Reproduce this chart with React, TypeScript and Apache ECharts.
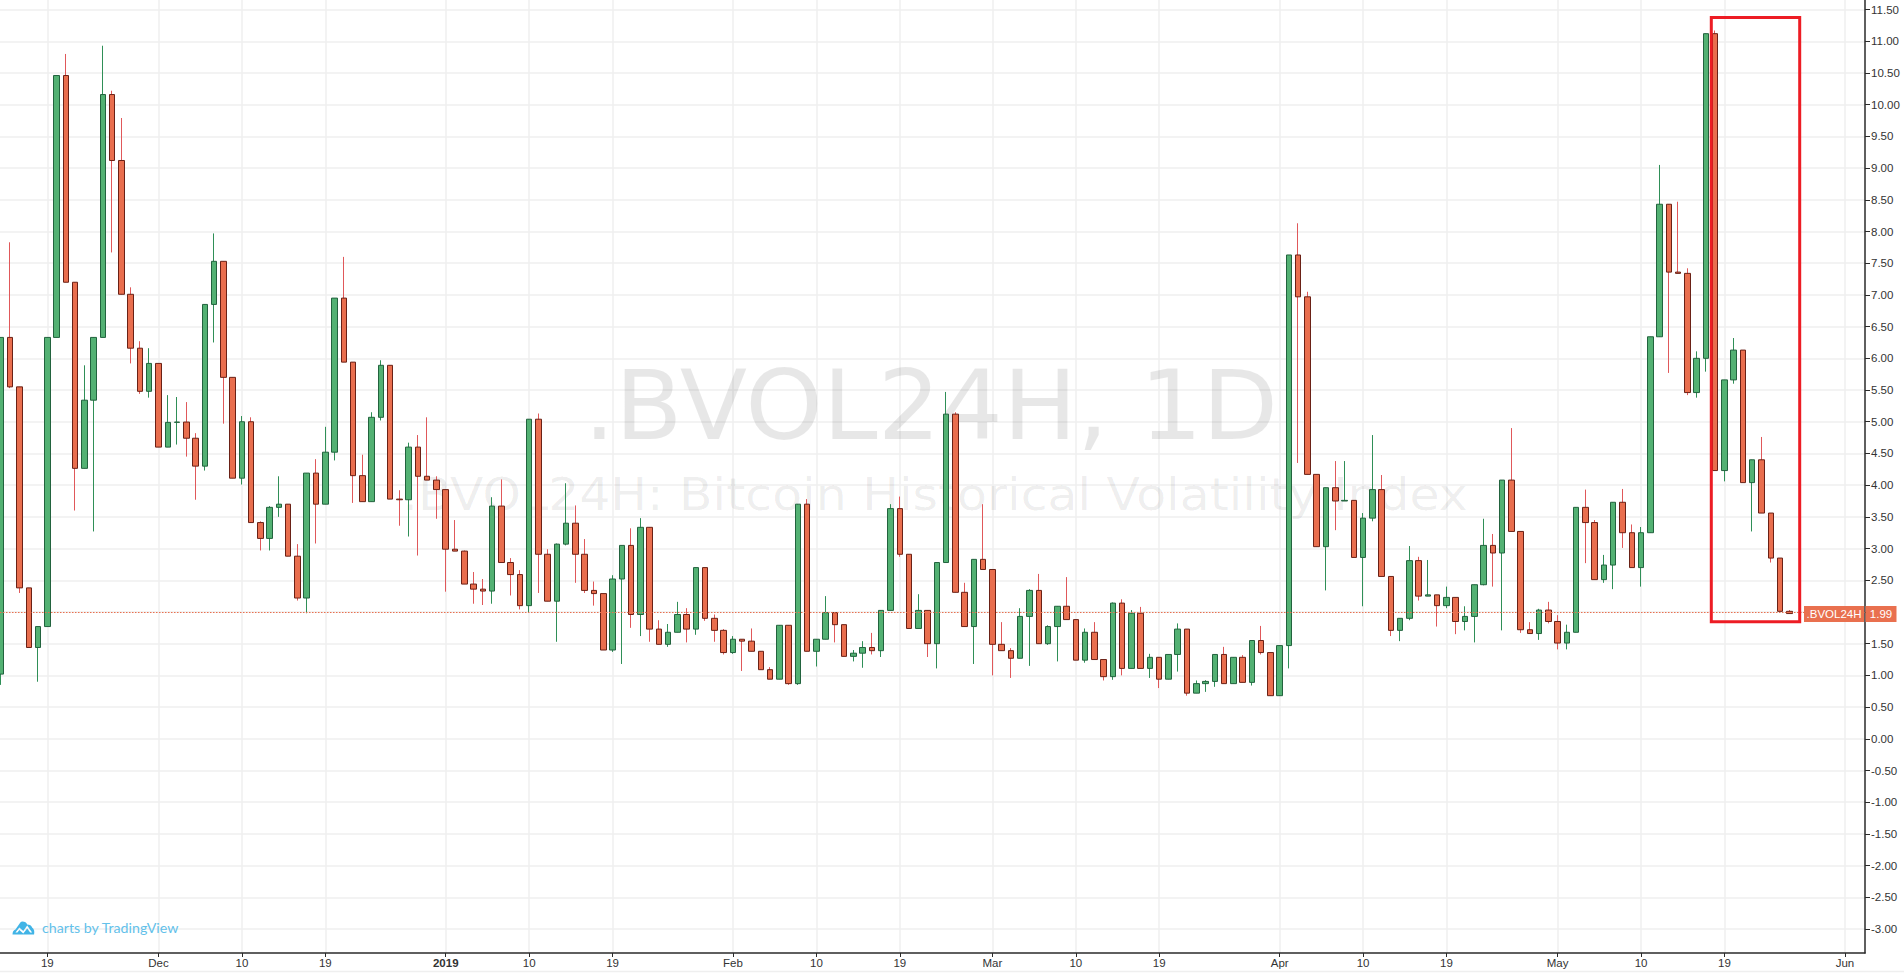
import React, { useEffect, useRef } from "react";
import * as echarts from "echarts";

// Day offsets from 19 Nov 2018; one candle per calendar day.
const firstDay = -5;
const firstOpen = 1.02;
const closes = [
  6.33, 5.55, 2.38, 1.44, 1.77,
  6.33, 10.46, 7.2, 4.265, 5.34, 6.33, 10.16, 9.12, 7.01, 6.16,
  5.48, 5.92, 4.6, 4.99, 4.995, 4.74, 4.3, 6.85, 7.53, 5.7,
  4.11, 5.0, 3.41, 3.16, 3.65, 3.7, 2.88, 2.22, 4.19, 3.7,
  4.52, 6.95, 5.94, 4.15, 3.74, 5.07, 5.89, 3.78, 3.77, 4.6,
  4.14, 4.08, 3.93, 2.99, 2.96, 2.44, 2.36, 2.33, 3.67, 2.78,
  2.59, 2.1, 5.04, 2.91, 2.17, 3.07, 3.4, 2.91, 2.34, 2.29,
  1.4, 2.52, 3.05, 1.96, 3.335, 1.73, 1.49, 1.68, 1.96, 1.73,
  2.7, 1.9, 1.71, 1.36, 1.57, 1.54, 1.38, 1.09, 0.94, 1.79,
  0.87, 3.7, 1.38, 1.57, 1.99, 1.8, 1.3, 1.35, 1.44, 1.39,
  2.025, 3.63, 2.91, 1.74, 2.025, 1.5, 2.78, 5.12, 2.31, 1.77,
  2.83, 2.67, 1.49, 1.39, 1.27, 1.93, 2.34, 1.5, 1.77, 2.09,
  1.88, 1.24, 1.68, 1.25, 0.98, 2.14, 1.11, 1.98, 1.11, 1.285,
  0.94, 1.33, 1.73, 0.72, 0.87, 0.905, 1.33, 0.87, 1.285, 0.89,
  1.55, 1.36, 0.68, 1.47, 7.63, 6.97, 4.17, 3.03, 3.96, 3.75,
  3.76, 2.86, 3.48, 3.93, 2.56, 1.71, 1.9, 2.81, 2.25, 2.27,
  2.1, 2.23, 1.85, 1.93, 2.43, 3.05, 2.93, 4.08, 3.27, 1.72,
  1.66, 2.03, 1.85, 1.51, 1.68, 3.65, 3.41, 2.51, 2.74, 3.73,
  3.25, 2.7, 3.25, 6.34, 8.43, 7.36, 7.34, 5.46, 6.0, 11.12,
  4.23, 5.66, 6.13, 4.04, 4.4, 3.56, 2.85, 2.01, 1.975,
];
const lows = [
  0.85, 5.53, 2.3, 1.44, 0.9,
  1.77, 6.33, 7.2, 3.6, 4.265, 3.27, 6.33, 7.67, 7.01, 5.92,
  5.44, 5.38, 4.6, 4.6, 4.64, 4.45, 3.77, 4.23, 6.25, 4.97,
  4.11, 4.01, 3.41, 2.97, 2.97, 3.5, 2.88, 2.18, 1.98, 3.08,
  3.7, 4.39, 5.94, 3.72, 3.74, 3.74, 5.02, 3.78, 3.36, 3.19,
  2.89, 4.08, 3.47, 2.32, 2.96, 2.44, 2.13, 2.11, 2.13, 2.78,
  2.26, 2.04, 2.0, 2.3, 2.17, 1.53, 3.05, 2.46, 2.3, 2.1,
  1.4, 1.37, 1.18, 1.75, 1.62, 1.53, 1.49, 1.45, 1.68, 1.52,
  1.64, 1.86, 1.53, 1.33, 1.34, 1.07, 1.38, 1.09, 0.94, 0.94,
  0.85, 0.85, 1.38, 1.14, 1.57, 1.52, 1.3, 1.22, 1.12, 1.33,
  1.29, 2.025, 2.87, 1.74, 1.74, 1.29, 1.11, 2.78, 2.31, 1.77,
  1.18, 2.67, 1.0, 1.39, 0.96, 1.27, 1.15, 1.5, 1.48, 1.22,
  1.88, 1.24, 1.2, 1.25, 0.92, 0.93, 1.0, 1.11, 1.11, 0.96,
  0.8, 0.94, 1.06, 0.68, 0.72, 0.74, 0.82, 0.87, 0.87, 0.89,
  0.84, 1.33, 0.68, 0.68, 1.11, 4.35, 4.17, 3.03, 2.34, 3.29,
  3.75, 2.86, 2.09, 3.43, 2.56, 1.62, 1.54, 1.87, 2.18, 2.25,
  1.77, 2.06, 1.65, 1.71, 1.52, 2.42, 2.4, 1.71, 3.27, 1.67,
  1.66, 1.56, 1.82, 1.41, 1.41, 1.68, 2.77, 2.51, 2.46, 2.36,
  3.01, 2.7, 2.4, 3.25, 6.34, 5.77, 7.34, 5.42, 5.38, 5.79,
  4.23, 4.06, 5.6, 4.04, 3.27, 3.56, 2.78, 2.01, 1.97,
];
const highs = [
  6.33, 7.83, 5.55, 2.38, 1.77,
  6.33, 10.46, 10.8, 7.2, 5.89, 6.33, 10.93, 10.22, 9.79, 7.12,
  6.27, 6.16, 5.92, 5.42, 5.39, 5.31, 4.82, 6.85, 7.97, 7.53,
  5.7, 5.09, 5.07, 3.43, 3.67, 4.14, 3.7, 3.07, 4.19, 4.41,
  4.92, 6.95, 7.6, 5.94, 4.48, 5.15, 5.97, 5.89, 3.92, 4.67,
  4.79, 5.07, 4.14, 3.93, 3.45, 2.97, 2.63, 2.52, 3.81, 4.09,
  2.85, 2.66, 5.04, 5.13, 2.99, 3.08, 4.03, 3.68, 3.15, 2.48,
  2.29, 2.58, 3.05, 3.32, 3.48, 3.335, 1.87, 1.81, 2.16, 2.06,
  2.7, 2.7, 1.96, 1.73, 1.62, 1.57, 1.74, 1.38, 1.13, 1.79,
  1.79, 3.7, 3.78, 1.57, 2.25, 1.99, 1.8, 1.4, 1.54, 1.67,
  2.025, 3.7, 3.82, 2.91, 2.28, 2.025, 2.78, 5.47, 5.15, 2.46,
  2.83, 3.7, 2.67, 1.84, 1.43, 2.06, 2.36, 2.6, 1.79, 2.09,
  2.55, 1.88, 1.74, 1.84, 1.25, 2.15, 2.2, 2.03, 2.08, 1.34,
  1.285, 1.33, 1.82, 1.73, 0.92, 0.925, 1.33, 1.45, 1.285, 1.32,
  1.55, 1.78, 1.36, 1.47, 7.63, 8.13, 7.05, 4.17, 3.96, 4.38,
  4.38, 3.76, 3.56, 4.79, 4.16, 2.56, 1.9, 3.04, 2.87, 2.82,
  2.27, 2.4, 2.23, 2.09, 2.43, 3.47, 3.23, 4.08, 4.9, 3.27,
  1.84, 2.05, 2.16, 1.95, 1.8, 3.65, 3.93, 3.45, 2.9, 3.73,
  3.94, 3.38, 3.34, 6.34, 9.05, 8.43, 8.47, 7.42, 6.11, 11.12,
  11.17, 5.66, 6.32, 6.13, 4.4, 4.76, 3.56, 2.85, 2.03,
];
const xTickDays = [0, 12, 21, 30, 43, 52, 61, 74, 83, 92, 102, 111, 120, 133, 142, 151, 163, 172, 181, 194];
const xTickLabels = ["19", "Dec", "10", "19", "2019", "10", "19", "Feb", "10", "19", "Mar", "10", "19", "Apr", "10", "19", "May", "10", "19", "Jun"];
const yTicks = [-3, -2.5, -2, -1.5, -1, -0.5, 0, 0.5, 1, 1.5, 2, 2.5, 3, 3.5, 4, 4.5, 5, 5.5, 6, 6.5, 7, 7.5, 8, 8.5, 9, 9.5, 10, 10.5, 11, 11.5];
const lastPrice = 1.99;
const symbol = ".BVOL24H";
const watermark = ".BVOL24H, 1D";
const watermarkSub = ".BVOL24H: Bitcoin Historical Volatility Index";
const logoText = "charts by TradingView";

const logoPath = "M0 13 Q0 9 3 8 L8 1 Q9 0 10 0 Q14 0 15 3 Q19 3 20 6 Q23 8 22 13 Z M3 11 L5 11 L7 8.5 L11 12 L15 7 L18 11 L20 11 L15 4 L11 9.5 L7 6 Z";
echarts.graphic.registerShape("tvlogo", echarts.graphic.extendPath(logoPath, {}) as any);

export default function App() {
  const ref = useRef<HTMLDivElement>(null);
  useEffect(() => {
    document.body.style.margin = "0";
    document.body.style.background = "#fff";
    const chart = echarts.init(ref.current!, undefined, { renderer: "svg" });
    const opens = closes.map((_, i) => (i === 0 ? firstOpen : closes[i - 1]));
    const days = closes.map((_, i) => firstDay + i);
    const wicks = days.map((d, i) => [d, opens[i], closes[i], lows[i], highs[i]]);
    const bodies = days.map((d, i) => [d, opens[i], closes[i], Math.min(opens[i], closes[i]), Math.max(opens[i], closes[i])]);
    const labelFont = "Liberation Sans";
    const gridColor = "#efefef";
    chart.setOption({
      animation: false,
      backgroundColor: "#ffffff",
      grid: { left: 0, right: 39, top: 0, bottom: 20 },
      xAxis: {
        type: "value",
        min: -5.105,
        max: 196.17,
        axisLine: { show: true, onZero: false, lineStyle: { color: "#2a2a2a", width: 1.5 } },
        axisTick: { show: true, length: 4, customValues: xTickDays, lineStyle: { color: "#2a2a2a", width: 1 } },
        axisLabel: {
          customValues: xTickDays,
          color: "#333333",
          fontFamily: labelFont,
          fontSize: 11.5,
          margin: 4,
          formatter: (v: number) => {
            const t = xTickLabels[xTickDays.indexOf(v)] ?? "";
            return t === "2019" ? `{b|${t}}` : t;
          },
          rich: { b: { fontWeight: "bold", fontFamily: labelFont, fontSize: 11.5, color: "#333333" } },
        },
        splitLine: { show: true, lineStyle: { color: gridColor, width: 1.5 } },
      },
      yAxis: {
        type: "value",
        position: "right",
        min: -3.378,
        max: 11.651,
        axisLine: { show: true, onZero: false, lineStyle: { color: "#2a2a2a", width: 1.5 } },
        axisTick: { show: true, length: 5, customValues: yTicks, lineStyle: { color: "#2a2a2a", width: 1 } },
        axisLabel: {
          customValues: yTicks,
          color: "#333333",
          fontFamily: labelFont,
          fontSize: 11.5,
          margin: 6,
          formatter: (v: number) => v.toFixed(2),
        },
        splitLine: { show: true, lineStyle: { color: gridColor, width: 1.5 } },
      },
      series: [
        {
          name: "wicks",
          type: "candlestick",
          barWidth: 1,
          clip: true,
          z: 2,
          itemStyle: { color: "#2f8f57", color0: "#e0585a", borderColor: "#2f8f57", borderColor0: "#e0585a", borderWidth: 1 },
          data: wicks,
        },
        {
          name: symbol,
          type: "candlestick",
          barWidth: 6,
          clip: true,
          z: 3,
          itemStyle: { color: "#53b173", color0: "#e96e4e", borderColor: "#22633e", borderColor0: "#6a2116", borderWidth: 1 },
          data: bodies,
          markLine: {
            silent: true,
            symbol: "none",
            animation: false,
            label: { show: false },
            lineStyle: { color: "#e9704f", type: [1.5, 1.5], width: 1 },
            data: [{ yAxis: lastPrice }],
          },
        },
      ],
      graphic: [
        { type: "text", z: 1, x: 931, y: 454, scaleX: 1.026, style: { text: watermark, fontFamily: "DejaVu Sans", fontSize: 96, fill: "rgba(0,0,0,0.095)", textAlign: "center", textVerticalAlign: "bottom" } },
        { type: "text", z: 1, x: 935, y: 517, scaleX: 1.086, style: { text: watermarkSub, fontFamily: "DejaVu Sans", fontSize: 45, fill: "rgba(0,0,0,0.07)", textAlign: "center", textVerticalAlign: "bottom" } },
        { type: "rect", z: 50, shape: { x: 1711.3, y: 17.4, width: 88.4, height: 604.4 }, style: { fill: "none", stroke: "#ed1c24", lineWidth: 3 } },
        { type: "rect", z: 50, shape: { x: 1804, y: 606, width: 60, height: 16 }, style: { fill: "#e9704f" } },
        { type: "rect", z: 50, shape: { x: 1865.5, y: 606, width: 31, height: 16 }, style: { fill: "#e9704f" } },
        { type: "text", z: 51, x: 1834, y: 614, style: { text: symbol, fontFamily: labelFont, fontSize: 11.5, fill: "#ffffff", textAlign: "center", textVerticalAlign: "middle" } },
        { type: "text", z: 51, x: 1881, y: 614, style: { text: lastPrice.toFixed(2), fontFamily: labelFont, fontSize: 11.5, fill: "#ffffff", textAlign: "center", textVerticalAlign: "middle" } },
        { type: "tvlogo", z: 10, x: 12.5, y: 921.5, scaleX: 0.98, scaleY: 1, style: { fill: "#41b4e6" } },
        { type: "text", z: 10, x: 42, y: 927.5, style: { text: logoText, fontFamily: "Lato", fontSize: 14.2, fill: "#63c1ea", textAlign: "left", textVerticalAlign: "middle" } },
        { type: "line", z: 10, shape: { x1: 0, y1: 971.5, x2: 1904, y2: 971.5 }, style: { stroke: gridColor, lineWidth: 1.5 } },
      ],
    });
    return () => chart.dispose();
  }, []);
  return <div ref={ref} style={{ position: "absolute", left: 0, top: 0, width: 1904, height: 973 }} />;
}
